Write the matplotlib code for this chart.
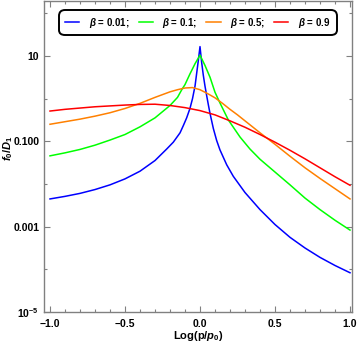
import numpy as np
import matplotlib
matplotlib.use("Agg")
import matplotlib.pyplot as plt
from matplotlib.ticker import FixedLocator, FixedFormatter

plt.rcParams['font.family'] = ['Liberation Sans', 'DejaVu Sans']
plt.rcParams['font.weight'] = 'bold'
plt.rcParams['mathtext.fontset'] = 'custom'
plt.rcParams['mathtext.rm'] = 'Liberation Sans:bold'
plt.rcParams['mathtext.bf'] = 'Liberation Sans:bold'
plt.rcParams['mathtext.it'] = 'Liberation Sans:italic:bold'

# ---- data (log10 of f0/D1) ----
blue_x = [-1.0, -0.9, -0.8, -0.7, -0.6, -0.5, -0.4, -0.3, -0.222, -0.178, -0.133, -0.111,
          -0.089, -0.067, -0.05, -0.033, -0.022, -0.011, 0.0, 0.011, 0.022, 0.033, 0.044,
          0.056, 0.067, 0.089, 0.111, 0.133, 0.178, 0.222, 0.3, 0.4, 0.5, 0.6, 0.7, 0.8, 0.9, 1.0]
blue_log = [-2.35, -2.29, -2.22, -2.13, -2.02, -1.88, -1.70, -1.45, -1.18, -1.02, -0.80, -0.63,
            -0.45, -0.23, 0.0, 0.30, 0.60, 0.90, 1.22, 0.85, 0.55, 0.30, 0.08,
            -0.15, -0.35, -0.70, -0.98, -1.20, -1.55, -1.82, -2.20, -2.60, -2.95, -3.25, -3.50, -3.72, -3.91, -4.08]

green_x = [-1.0, -0.9, -0.8, -0.7, -0.6, -0.5, -0.4, -0.3, -0.2, -0.15, -0.12, -0.1, -0.067, -0.033,
           0.0, 0.033, 0.067, 0.1, 0.133, 0.189, 0.267, 0.333, 0.4, 0.5, 0.6, 0.7, 0.8, 0.9, 1.0]
green_log = [-1.34, -1.27, -1.19, -1.09, -0.97, -0.84, -0.66, -0.45, -0.16, 0.03, 0.22, 0.33, 0.58, 0.82,
             1.02, 0.78, 0.50, 0.15, -0.10, -0.50, -0.90, -1.18, -1.42, -1.72, -2.02, -2.33, -2.60, -2.85, -3.08]

orange_x = [-1.0, -0.9, -0.8, -0.7, -0.6, -0.5, -0.4, -0.3, -0.2, -0.15, -0.1, -0.05, 0.0, 0.05,
            0.1, 0.15, 0.2, 0.25, 0.3, 0.4, 0.5, 0.6, 0.7, 0.8, 0.9, 1.0]
orange_log = [-0.60, -0.54, -0.48, -0.41, -0.33, -0.23, -0.11, 0.03, 0.16, 0.21, 0.25, 0.26, 0.21, 0.12,
              0.02, -0.11, -0.25, -0.38, -0.52, -0.80, -1.07, -1.35, -1.62, -1.87, -2.11, -2.35]

red_x = [-1.0, -0.9, -0.8, -0.7, -0.6, -0.5, -0.4, -0.3, -0.2, -0.1, 0.0, 0.1, 0.2, 0.3, 0.4,
         0.5, 0.6, 0.7, 0.8, 0.9, 1.0]
red_log = [-0.29, -0.25, -0.22, -0.19, -0.17, -0.15, -0.135, -0.13, -0.16, -0.21, -0.28, -0.38, -0.52,
           -0.67, -0.84, -1.02, -1.21, -1.41, -1.62, -1.83, -2.03]

labels = [r"$\beta$ = 0.01;", r"$\beta$ = 0.1;", r"$\beta$ = 0.5;", r"$\beta$ = 0.9"]
colors = ["#0000FF", "#00FF00", "#FF8000", "#FF0000"]

x_ticks = [-1.0, -0.5, 0.0, 0.5, 1.0]
x_ticklabels = ["\u22121.0", "\u22120.5", "0.0", "0.5", "1.0"]
y_ticks = [1e-5, 1e-3, 1e-1, 1e1]
y_ticklabels = [r"$10^{-5}$", "0.001", "0.100", "10"]
y_minor = [1e-4, 1e-2, 1e0, 1e2]

# ---- figure ----
fig = plt.figure(figsize=(3.57, 3.44), dpi=100)
W, H = 357, 344
ax = fig.add_axes([44 / W, (H - 312) / H, (352 - 44) / W, (312 - 1) / H])

series = [(blue_x, blue_log), (green_x, green_log), (orange_x, orange_log), (red_x, red_log)]
for (xs, ls), c, lab in zip(series, colors, labels):
    ax.plot(xs, 10 ** np.array(ls), color=c, lw=1.1, label=lab)

ax.set_yscale('log')
ax.set_xlim(-1.04, 1.0133)
ax.set_ylim(1e-5, 10 ** 2.289)

ax.xaxis.set_major_locator(FixedLocator(x_ticks))
ax.xaxis.set_major_formatter(FixedFormatter(x_ticklabels))
ax.xaxis.set_minor_locator(FixedLocator(np.arange(-1.0, 1.01, 0.1)))
ax.yaxis.set_major_locator(FixedLocator(y_ticks))
ax.yaxis.set_major_formatter(FixedFormatter(y_ticklabels))
ax.yaxis.set_minor_locator(FixedLocator(y_minor))
ax.yaxis.set_minor_formatter(FixedFormatter([""] * len(y_minor)))

ax.tick_params(which='both', direction='in', top=True, right=True, color='#808080',
               labelsize=7.5, width=0.8)
ax.tick_params(which='major', length=4)
ax.tick_params(which='minor', length=2.2)
ax.tick_params(axis='x', which='major', pad=5)
ax.tick_params(axis='y', which='major', pad=3.5)
for lab in ax.get_xticklabels() + ax.get_yticklabels():
    lab.set_fontweight('bold')
for sp in ax.spines.values():
    sp.set_color('#808080')
    sp.set_linewidth(1.0)

ax.set_xlabel(r"Log(p/$p_0$)", fontsize=8, fontweight='bold')
ax.xaxis.set_label_coords(0.5, -0.054)
ax.set_ylabel(r"$f_0/D_1$", fontsize=8, fontweight='bold')
ax.yaxis.set_label_coords(-0.095, 0.527)

leg = ax.legend(loc='upper center', bbox_to_anchor=(0.5, 0.981), ncol=4, fancybox=True,
                prop={'family': 'Liberation Sans', 'weight': 'bold', 'size': 7},
                handlelength=1.45, handletextpad=1.0, columnspacing=0.9,
                borderpad=0.4, framealpha=1, edgecolor='black')
leg.get_frame().set_linewidth(1.4)
leg.get_frame().set_boxstyle('round,pad=0.2,rounding_size=0.6')

fig.savefig("out.png", dpi=100)
